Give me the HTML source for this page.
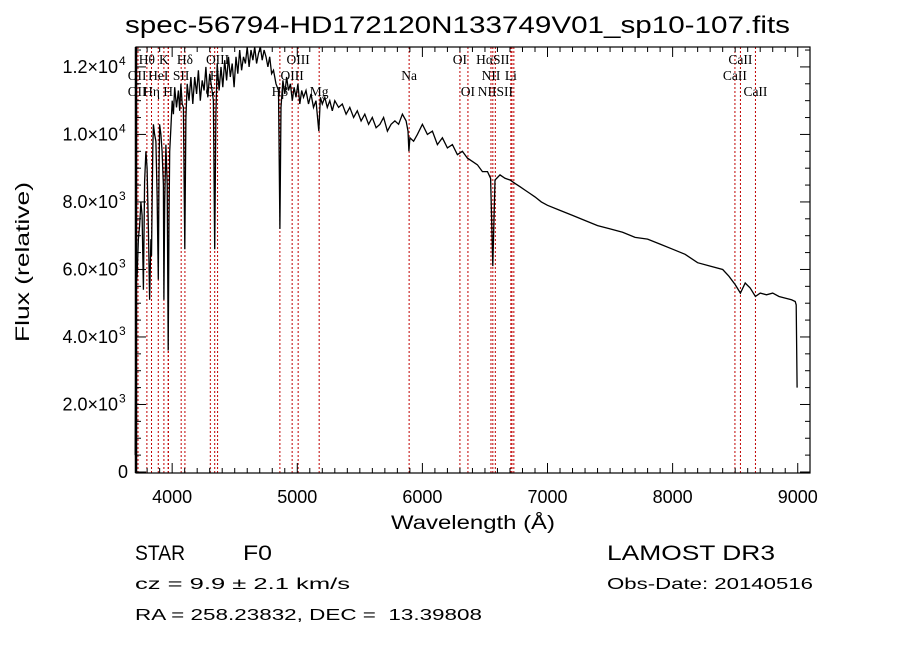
<!DOCTYPE html>
<html><head><meta charset="utf-8"><style>
body{margin:0;background:#fff;}
svg text{font-family:"Liberation Sans",sans-serif;fill:#000;}
.ln{font-family:"Liberation Serif",serif;font-size:13.5px;}
</style></head><body>
<svg id="chart" width="900" height="649" viewBox="0 0 900 649" xmlns="http://www.w3.org/2000/svg">
<rect width="900" height="649" fill="#fff"/>
<text x="125" y="33" font-size="24" textLength="665" lengthAdjust="spacingAndGlyphs">spec-56794-HD172120N133749V01_sp10-107.fits</text>
<g id="lines"></g>
<g id="labels"></g>
<path id="spec" fill="none" stroke="#000" stroke-width="1.3"/>
<g id="axes"></g>
<text x="473" y="529" font-size="19" text-anchor="middle" textLength="164" lengthAdjust="spacingAndGlyphs">Wavelength (Å)</text>
<text transform="translate(29,262) rotate(-90)" font-size="19" text-anchor="middle" textLength="160" lengthAdjust="spacingAndGlyphs">Flux (relative)</text>
<text x="135" y="560" font-size="21" textLength="50" lengthAdjust="spacingAndGlyphs">STAR</text>
<text x="243" y="560" font-size="21" textLength="29" lengthAdjust="spacingAndGlyphs">F0</text>
<text x="135" y="589" font-size="16" textLength="215" lengthAdjust="spacingAndGlyphs">cz = 9.9 ± 2.1 km/s</text>
<text x="135" y="620" font-size="16" textLength="347" lengthAdjust="spacingAndGlyphs">RA = 258.23832, DEC = &#160;13.39808</text>
<text x="607" y="560" font-size="21" textLength="168" lengthAdjust="spacingAndGlyphs">LAMOST DR3</text>
<text x="607" y="589" font-size="16" textLength="206" lengthAdjust="spacingAndGlyphs">Obs-Date: 20140516</text>
</svg>
<script>
const waves=[3705,3712,3720,3730,3740,3750,3760,3770,3780,3790,3800,3810,3820,3830,3835,3845,3850,3860,3870,3880,3889,3895,3900,3910,3920,3930,3934,3940,3950,3960,3968,3975,3980,3990,4000,4010,4020,4035,4050,4060,4070,4080,4090,4101,4110,4120,4135,4150,4165,4180,4195,4210,4225,4240,4255,4270,4285,4300,4315,4330,4340,4350,4360,4375,4390,4405,4420,4435,4450,4465,4480,4495,4510,4525,4540,4555,4570,4585,4600,4615,4630,4645,4660,4675,4690,4705,4720,4735,4750,4765,4780,4795,4810,4830,4850,4861,4870,4885,4900,4915,4930,4945,4960,4975,4990,5005,5020,5035,5050,5070,5090,5110,5130,5150,5172,5185,5200,5220,5240,5260,5280,5300,5330,5360,5390,5420,5450,5480,5510,5540,5570,5600,5630,5660,5690,5720,5750,5780,5810,5840,5870,5885,5892,5900,5930,5960,6000,6040,6080,6120,6160,6200,6240,6280,6320,6360,6400,6440,6480,6520,6545,6563,6580,6620,6660,6700,6740,6780,6820,6860,6900,6950,7000,7100,7200,7300,7400,7500,7600,7700,7800,7900,8000,8100,8200,8300,8400,8450,8500,8542,8580,8620,8662,8700,8750,8800,8850,8900,8950,8980,8988,8995];
const flux=[500,5600,5800,6900,7300,8000,7600,5400,8600,9500,9000,7200,5100,6900,6400,9600,10300,10000,9800,8200,5700,8800,10300,10000,9500,8500,5100,8000,9700,8500,3600,7500,9500,10200,11000,10600,11400,10800,11300,10700,11500,10900,10800,6600,10500,11500,11000,11700,10900,11700,11200,11900,11000,11600,11300,12000,11100,11800,11400,11000,6600,10600,12100,11300,12000,11400,12200,11600,12300,11700,12100,11400,12300,11800,12500,11900,12300,12100,12600,12000,12500,12200,12600,12100,12400,12700,12200,12500,12300,12000,12300,11800,11900,11500,11300,7200,10800,11600,11200,11700,11300,11500,11000,11400,11100,11500,10900,11300,11100,11300,10900,11200,10800,11000,10100,11100,10900,11100,10800,11000,10700,11000,10800,10900,10600,10800,10500,10700,10400,10600,10300,10500,10200,10300,10500,10100,10300,10400,10300,10600,10400,10100,9500,9900,9800,10000,10300,10000,10100,9700,9900,9600,9700,9400,9500,9300,9200,9100,8900,8900,8700,6100,8650,8800,8700,8650,8550,8450,8350,8250,8150,8000,7900,7750,7600,7450,7300,7200,7100,6950,6900,6750,6600,6450,6200,6100,6000,5800,5550,5300,5600,5450,5200,5300,5250,5300,5200,5150,5100,5050,4950,2500,950];
const lineWaves=[3727,3798,3835,3889,3934,3968,3970,4072,4102,4305,4340,4363,4861,4959,5007,5175,5894,6300,6364,6548,6563,6583,6707,6716,6731,8498,8542,8662];
const labelTexts=["Hθ","K","Hδ","OIII","OIII","OI","HαSII","CaII","OII","HeI","SII","H","OIII","Na","NII","Li","CaII","OII","Hη","H","G","Hβ","Mg","OI","NIISII","CaII"];
const labelWaves=[3798,3934,4102,4363,5007,6300,6563,8542,3720,3889,4072,4340,4959,5894,6548,6707,8498,3720,3835,3968,4305,4861,5175,6364,6583,8662];
const labelRows=[0,0,0,0,0,0,0,0,1,1,1,1,1,1,1,1,1,2,2,2,2,2,2,2,2,2];
const xTicks=[4000,5000,6000,7000,8000,9000];
const yTicks=[0,2000,4000,6000,8000,10000,12000];
const yTickLabels=["0","2.0","4.0","6.0","8.0","1.0","1.2"];
const yTickExp=["","3","3","3","3","4","4"];
const X0=136,X1=810,Y0=47,Y1=473,XMIN=3711,XMAX=9098,YMIN=-30,YMAX=12590;
const sx=w=>X0+(w-XMIN)/(XMAX-XMIN)*(X1-X0);
const sy=f=>Y1-(f-YMIN)/(YMAX-YMIN)*(Y1-Y0);
const NS="http://www.w3.org/2000/svg";
function mk(tag,attrs,parent){const e=document.createElementNS(NS,tag);for(const k in attrs)e.setAttribute(k,attrs[k]);parent.appendChild(e);return e;}
const cl=v=>Math.max(Y0,Math.min(Y1,v));
let d="";waves.forEach((w,i)=>{d+=(i?"L":"M")+sx(w).toFixed(1)+","+cl(sy(flux[i])).toFixed(1);});
document.getElementById('spec').setAttribute('d',d);
const gl=document.getElementById('lines');
lineWaves.forEach(w=>{const l=mk('line',{x1:sx(w),x2:sx(w),y1:Y0,y2:Y1,stroke:'#c00000','stroke-width':1,'stroke-dasharray':'2,2'},gl);

});
const glab=document.getElementById('labels');
labelTexts.forEach((t,i)=>{const e=mk('text',{x:sx(labelWaves[i]),y:64+labelRows[i]*16,'text-anchor':'middle',class:'ln'},glab);e.textContent=t;

});
const ga=document.getElementById('axes');
mk('rect',{x:X0,y:Y0,width:X1-X0,height:Y1-Y0,fill:'none',stroke:'#000','stroke-width':1.2},ga);
mk('line',{x1:X0,x2:X0,y1:Y0,y2:Y1,stroke:'#000','stroke-width':2.5},ga);
for(let w=3800;w<=9000;w+=100){const maj=w%1000===0,L=maj?10:5;
mk('line',{x1:sx(w),x2:sx(w),y1:Y1,y2:Y1-L,stroke:'#000'},ga);
mk('line',{x1:sx(w),x2:sx(w),y1:Y0,y2:Y0+L,stroke:'#000'},ga);}
for(let f=0;f<=12500;f+=500){const maj=f%2000===0,L=maj?10:5;
mk('line',{x1:X0,x2:X0+L,y1:sy(f),y2:sy(f),stroke:'#000'},ga);
mk('line',{x1:X1,x2:X1-L,y1:sy(f),y2:sy(f),stroke:'#000'},ga);}
xTicks.forEach(w=>{const t=mk('text',{x:sx(w),y:503,'font-size':18,'text-anchor':'middle'},ga);t.textContent=w;

});
yTicks.forEach((f,i)=>{const y=sy(f)+6;const t=mk('text',{x:yTickExp[i]?118:128,y:y,'font-size':18,'text-anchor':'end'},ga);
t.textContent=yTickExp[i]?yTickLabels[i]+"×10":yTickLabels[i];


if(yTickExp[i]){const s=mk('text',{x:119,y:y-8,'font-size':12},ga);s.textContent=yTickExp[i];

}});
</script>
</body></html>
